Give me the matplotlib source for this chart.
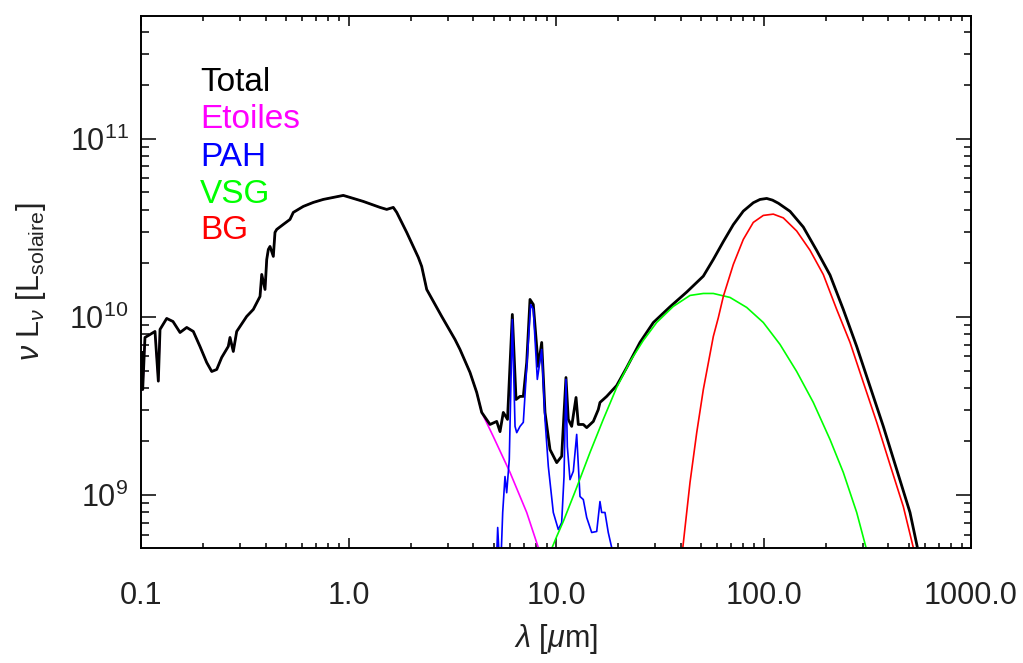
import numpy as np
import matplotlib.pyplot as plt
from matplotlib.ticker import FixedLocator, FixedFormatter, LogLocator, NullFormatter

plt.rcParams['font.family'] = ['Liberation Sans', 'DejaVu Sans']
plt.rcParams['mathtext.fontset'] = 'custom'
plt.rcParams['mathtext.rm'] = 'Liberation Sans'
plt.rcParams['mathtext.it'] = 'Liberation Sans:italic'

# luminosites en unites de 1e9 L_solaire
unit = 1e9

lam_total = [0.1008, 0.1019, 0.1045, 0.1105, 0.1168, 0.1212, 0.1235, 0.1330, 0.1426, 0.1542,
             0.1661, 0.1787, 0.1924, 0.2073, 0.2192, 0.2317, 0.2448, 0.2634, 0.2685, 0.2785,
             0.2892, 0.3231, 0.3477, 0.3746, 0.3818, 0.3960, 0.4036, 0.4108, 0.4186, 0.4342,
             0.4423, 0.4508, 0.4850, 0.5224, 0.5420, 0.6057, 0.6767, 0.7560, 0.8446, 0.9439,
             1.017, 1.178, 1.419, 1.528, 1.644, 1.708, 1.908, 2.170, 2.253, 2.382,
             2.518, 2.813, 3.261, 3.446, 3.851, 4.148, 4.385, 4.808, 5.179, 5.373,
             5.572, 5.838, 6.160, 6.418, 6.708, 6.958, 7.225, 7.494, 7.773, 8.216,
             8.532, 8.851, 9.357, 10.08, 10.65, 11.17, 11.46, 11.90, 12.49, 12.81,
             13.54, 14.06, 15.13, 15.99, 16.29, 17.55, 19.61, 21.91, 25.40, 29.44,
             35.43, 42.65, 51.28, 57.30, 64.03, 71.54, 79.92, 89.29, 96.2, 103.6,
             110.5, 118.0, 134.2, 155.5, 180.5, 209.2, 242.4, 281.3, 326.1, 377.9,
             438.5, 508.2, 567.5]
L_total = [6.32, 3.91, 7.67, 7.97, 8.29, 4.36, 8.51, 9.81, 9.43, 8.18,
           8.73, 8.29, 6.83, 5.55, 4.94, 5.07, 5.92, 6.83, 7.67, 6.40,
           8.29, 10.07, 11.02, 13.04, 17.33, 14.27, 21.04, 23.94, 24.89, 21.88,
           29.84, 31.01, 33.09, 35.30, 38.65, 41.77, 43.98, 45.72, 46.92, 48.15,
           46.92, 44.55, 41.23, 40.18, 41.23, 38.65, 29.84, 21.60, 19.22, 14.27,
           12.70, 10.07, 7.47, 6.57, 4.88, 3.77, 2.91, 2.49, 2.59, 2.27,
           2.91, 2.66, 10.33, 3.44, 3.58, 3.58, 5.55, 12.54, 11.75, 5.27,
           7.19, 2.91, 1.80, 1.52, 1.65, 4.57, 2.66, 2.43, 3.53, 2.49,
           2.49, 2.39, 2.59, 3.02, 3.31, 3.58, 4.12, 5.20, 7.2, 9.3,
           11.4, 13.8, 16.95, 21.04, 26.5, 33.0, 39.3, 43.8, 45.7, 46.3,
           45.3, 43.5, 39.2, 32.0, 23.6, 17.2, 11.02, 6.83, 4.07, 2.43,
           1.39, 0.798, 0.434]

# etoiles : confondues avec le total jusqu'a ~4.4 um, puis la queue Rayleigh-Jeans
lam_star_tail = [4.987, 6.003, 7.225, 8.216, 8.373]
L_star_tail = [2.13, 1.34, 0.798, 0.507, 0.457]

lam_pah = [5.17, 5.236, 5.330, 5.432, 5.535, 5.678, 5.786, 5.954, 6.160, 6.347,
           6.467, 6.708, 6.958, 7.225, 7.551, 7.773, 8.127, 8.532, 8.851, 9.182,
           9.705, 10.26, 10.65, 10.93, 11.17, 11.34, 11.68, 12.12, 12.58, 13.05,
           13.54, 14.06, 14.86, 15.71, 16.29, 16.60, 17.22, 17.86, 18.55, 18.82]
L_pah = [0.434, 0.657, 0.434, 0.434, 0.798, 1.27, 1.03, 1.58, 9.68, 2.43,
         2.24, 2.43, 2.56, 5.2, 11.75, 11.02, 4.46, 6.57, 2.66, 1.45,
         0.798, 0.640, 0.700, 1.27, 4.46, 1.87, 1.22, 1.36, 2.19, 0.981,
         0.943, 0.747, 0.616, 0.624, 0.919, 0.798, 0.798, 0.616, 0.507, 0.434]

lam_vsg = [9.357, 10.08, 10.84, 12.58, 14.58, 16.90, 19.61, 22.73, 26.35, 30.56,
           36.75, 44.24, 51.28, 57.30, 68.96, 82.99, 99.77, 120.1, 144.5, 173.8,
           209.2, 242.4, 281.3, 311.9, 318.9]
L_vsg = [0.475, 0.585, 0.710, 1.102, 1.733, 2.66, 4.02, 5.62, 7.38, 9.31,
         11.46, 13.21, 13.55, 13.55, 12.87, 11.31, 9.31, 7.01, 4.94, 3.31,
         2.05, 1.34, 0.798, 0.507, 0.446]

lam_bg = [40.25, 44.24, 47.66, 51.28, 57.30, 60.56, 64.03, 71.54, 79.92, 89.29,
          99.77, 111.5, 124.6, 144.5, 167.5, 194.2, 225.3, 261.2, 302.7, 351.3,
          407.1, 471.8, 527.1, 546.1]
L_bg = [0.434, 1.176, 2.24, 3.91, 7.77, 9.9, 13.04, 19.72, 27.25, 33.96,
        37.17, 37.8, 36.0, 30.4, 23.7, 17.3, 11.02, 7.19, 4.29, 2.56,
        1.48, 0.862, 0.507, 0.434]

labels = ['Total', 'Etoiles', 'PAH', 'VSG', 'BG']
colors = ['black', '#ff00ff', '#0000ff', '#00ff00', '#ff0000']

lam_total = np.array(lam_total)
L_total = np.array(L_total)
cut = lam_total <= 4.4
lam_star = np.concatenate([lam_total[cut], lam_star_tail])
L_star = np.concatenate([L_total[cut], L_star_tail])

fig = plt.figure(figsize=(10.23, 6.63), dpi=100)
ax = fig.add_axes([141/1023, 115/663, 830/1023, 532/663])

ax.plot(lam_star, L_star * unit, color=colors[1], lw=1.2)
ax.plot(lam_total, L_total * unit, color=colors[0], lw=2.0)
ax.plot(lam_pah, np.array(L_pah) * unit, color=colors[2], lw=1.2)
ax.plot(lam_vsg, np.array(L_vsg) * unit, color=colors[3], lw=1.2)
ax.plot(lam_bg, np.array(L_bg) * unit, color=colors[4], lw=1.2)

ax.set_xscale('log')
ax.set_yscale('log')
ax.set_xlim(0.1, 1000)
ax.set_ylim(5.04e8, 4.9e11)

ax.xaxis.set_major_locator(FixedLocator([0.1, 1, 10, 100, 1000]))
ax.xaxis.set_major_formatter(FixedFormatter(['0.1', '1.0', '10.0', '100.0', '1000.0']))
ax.xaxis.set_minor_locator(LogLocator(base=10, subs=np.arange(2, 10)))
ax.xaxis.set_minor_formatter(NullFormatter())
ax.yaxis.set_minor_locator(LogLocator(base=10, subs=np.arange(2, 10)))
ax.yaxis.set_minor_formatter(NullFormatter())

for s in ax.spines.values():
    s.set_linewidth(1.4)
ax.tick_params(which='both', direction='in', top=True, right=True, width=1.1,
               labelsize=22, colors='black')
ax.tick_params(axis='x', which='major', length=7, pad=24)
ax.tick_params(axis='x', which='minor', length=3.6)
ax.tick_params(axis='y', which='major', length=11, pad=9)
ax.tick_params(axis='y', which='minor', length=5.4)
for t in ax.get_xticklabels() + ax.get_yticklabels():
    t.set_color('#222222')

ax.set_xlabel(r'$\lambda$ [$\mu$m]', fontsize=22, labelpad=8, color='#222222')
ax.set_ylabel(r'$\nu$ L$_\nu$ [L$_{\rm solaire}$]', fontsize=22, labelpad=15, color='#222222')

ypos = [0.859, 0.789, 0.718, 0.648, 0.580]
for lab, col, yy in zip(labels, colors, ypos):
    ax.text(0.071, yy, lab, color=col, fontsize=24, transform=ax.transAxes, va='baseline')

fig.savefig('out.png', dpi=100)
